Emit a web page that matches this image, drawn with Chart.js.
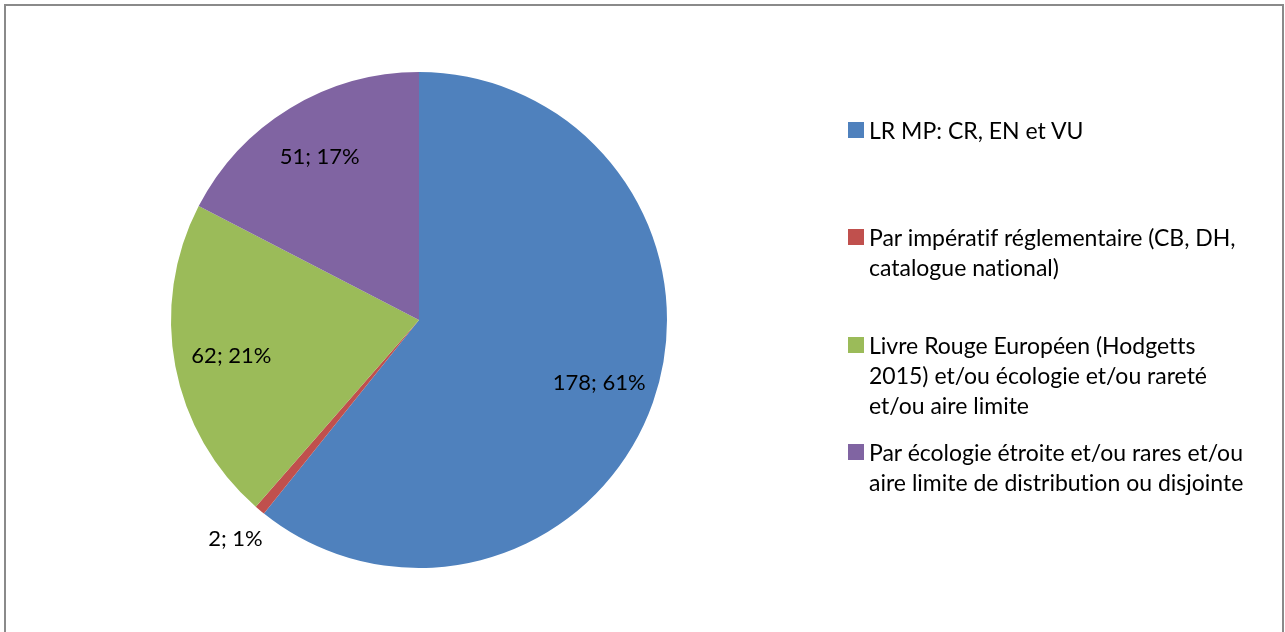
<!DOCTYPE html>
<html>
<head>
<meta charset="utf-8">
<script src="https://cdn.jsdelivr.net/npm/chart.js@4/dist/chart.umd.min.js"></script>
<style>
  body { margin: 0; background: #fff; }
  #wrap { position: relative; width: 1285px; height: 632px; overflow: hidden; }
  #frame { position: absolute; left: 4px; top: 4px; width: 1276px; height: 640px; border: 2px solid #8a8a8a; }
  #legend { position: absolute; left: 848px; top: 0; font-family: Lato, "Open Sans", sans-serif; font-size: 23px; color: #000; font-variant-ligatures: none; }
  .item { position: absolute; left: 0; width: 430px; line-height: 30px; }
  .box { position: absolute; left: 0; top: 7px; width: 16px; height: 16px; }
  .txt { position: absolute; left: 21px; white-space: nowrap; }
</style>
</head>
<body>
<div id="wrap">
  <canvas id="pie" width="1285" height="632"></canvas>
  <div id="frame"></div>
  <div id="legend"></div>
</div>
<script>
// categories and values
const categories = [
  ['LR MP: CR, EN  et VU'],
  ['Par impératif réglementaire (CB, DH,', 'catalogue national)'],
  ['Livre Rouge Européen (Hodgetts', '2015) et/ou écologie et/ou rareté', 'et/ou aire limite'],
  ['Par écologie étroite et/ou rares et/ou', 'aire limite de distribution ou disjointe']
];
const counts = [178, 2, 62, 51];
const percentLabels = ['61%', '1%', '21%', '17%'];
const colors = ['#4F81BD', '#C0504D', '#9BBB59', '#8064A2'];

// legend rows top (y of first line)
const legendTops = [115, 222, 330, 437];

const legendEl = document.getElementById('legend');
categories.forEach((lines, i) => {
    const item = document.createElement('div');
    item.className = 'item';
    item.style.top = legendTops[i] + 'px';
    item.innerHTML = '<div class="box" style="background:' + colors[i] + '"></div>' +
        '<div class="txt">' + lines.join('<br>') + '</div>';
    legendEl.appendChild(item);
});

// draw "value; pct" labels, small slices go outside
const sliceLabels = {
    id: 'sliceLabels',
    afterDatasetsDraw(chart) {
        const ctx = chart.ctx;
        const meta = chart.getDatasetMeta(0);
        ctx.save();
        ctx.font = '22px Lato, "Open Sans", sans-serif';
        ctx.fillStyle = '#000';
        ctx.textAlign = 'center';
        ctx.textBaseline = 'middle';
        meta.data.forEach((arc, i) => {
            const mid = (arc.startAngle + arc.endAngle) / 2;
            const small = counts[i] < 10;
            const r = small ? arc.outerRadius + 38 : arc.outerRadius * 0.77;
            const x = arc.x + Math.cos(mid) * r;
            const y = arc.y + Math.sin(mid) * r;
            ctx.fillText(counts[i] + '; ' + percentLabels[i], x, y);
        });
        ctx.restore();
    }
};

new Chart(document.getElementById('pie'), {
    type: 'pie',
    data: {
        labels: categories.map(l => l.join(' ')),
        datasets: [{
            data: counts,
            backgroundColor: colors,
            borderWidth: 0
        }]
    },
    options: {
        responsive: false,
        animation: false,
        devicePixelRatio: 1,
        layout: { padding: { left: 171, right: 618, top: 72, bottom: 64 } },
        plugins: {
            legend: { display: false },
            tooltip: { enabled: false }
        }
    },
    plugins: [sliceLabels]
});
</script>
</body>
</html>
